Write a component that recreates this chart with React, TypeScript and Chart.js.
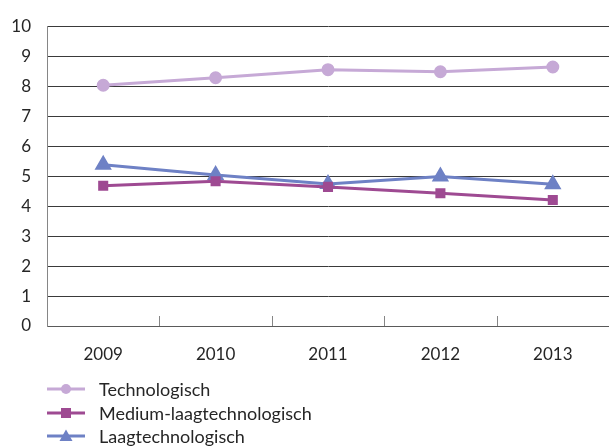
import React, { useEffect, useRef } from "react";
import { Chart, registerables } from "chart.js";

Chart.register(...registerables);

const years = ["2009", "2010", "2011", "2012", "2013"];
const technologisch = [8.03, 8.28, 8.55, 8.48, 8.64];
const mediumLaag = [4.68, 4.83, 4.64, 4.43, 4.2];
const laag = [5.38, 5.04, 4.74, 4.99, 4.73];
const yTicks = [0, 1, 2, 3, 4, 5, 6, 7, 8, 9, 10];

const seriesNames = ["Technologisch", "Medium-laagtechnologisch", "Laagtechnologisch"];
const colors = ["#C6A9D6", "#9E4A92", "#6E81C5"];
const pointStyles = ["circle", "rect", "triangle"];

const FONT = "Lato, 'Open Sans', sans-serif";

function LegendSymbol({ color, style }: { color: string; style: string }) {
  let marker: React.ReactNode = null;
  if (style === "circle") marker = <circle cx={19} cy={7} r={5} fill={color} />;
  else if (style === "rect") marker = <rect x={14} y={2} width={10} height={10} fill={color} />;
  else marker = <polygon points="19,0.5 25.5,12 12.5,12" fill={color} />;
  return (
    <svg width={38} height={14} style={{ display: "block" }}>
      <line x1={0} y1={7} x2={38} y2={7} stroke={color} strokeWidth={3} />
      {marker}
    </svg>
  );
}

export default function App() {
  const ref = useRef<HTMLCanvasElement | null>(null);
  useEffect(() => {
    document.body.style.margin = "0";
    const canvas = ref.current;
    if (!canvas) return;
    const catTicks = {
      id: "catTicks",
      afterDraw(chart: any) {
        const x = chart.scales.x;
        const area = chart.chartArea;
        const ctx = chart.ctx;
        ctx.save();
        ctx.strokeStyle = "#868686";
        ctx.lineWidth = 1;
        for (let i = 1; i < years.length; i++) {
          const px = Math.round((x.getPixelForTick(i - 1) + x.getPixelForTick(i)) / 2) + 0.5;
          ctx.beginPath();
          ctx.moveTo(px, area.bottom);
          ctx.lineTo(px, area.bottom - 10);
          ctx.stroke();
        }
        ctx.restore();
      },
    };
    const chart = new Chart(canvas, {
      type: "line",
      data: {
        labels: years,
        datasets: [technologisch, mediumLaag, laag].map((d, i) => ({
          label: seriesNames[i],
          data: d,
          borderColor: colors[i],
          backgroundColor: colors[i],
          borderWidth: 3,
          pointStyle: pointStyles[i] as any,
          pointRadius: i === 2 ? 7 : 5,
          pointHoverRadius: i === 2 ? 7 : 5,
          tension: 0,
        })),
      },
      options: {
        animation: false,
        responsive: false,
        maintainAspectRatio: false,
        layout: { autoPadding: false, padding: { top: 24, right: 0, bottom: 70, left: 0 } },
        plugins: { legend: { display: false }, tooltip: { enabled: false } },
        scales: {
          x: {
            type: "category",
            offset: true,
            grid: { display: false, drawTicks: false },
            border: { display: true, color: "#5a5a5a", width: 1 },
            ticks: { padding: 18, color: "#262626", font: { family: FONT, size: 17 } },
            afterFit(scale: any) {
              scale.height = 50;
              scale.paddingLeft = 0;
              scale.paddingRight = 0;
            },
          },
          y: {
            min: 0,
            max: 10,
            afterBuildTicks(scale: any) {
              scale.ticks = yTicks.map((v) => ({ value: v }));
            },
            grid: { color: "#3a3a3a", lineWidth: 1, drawTicks: false },
            border: { display: true, color: "#868686", width: 1 },
            ticks: { padding: 16, color: "#262626", font: { family: FONT, size: 17 } },
            afterFit(scale: any) {
              scale.width = 47;
            },
          },
        },
      },
      plugins: [catTicks],
    });
    return () => chart.destroy();
  }, []);

  return (
    <div style={{ position: "relative", width: 609, height: 446, fontFamily: FONT }}>
      <canvas ref={ref} width={609} height={446} style={{ display: "block" }} />
      {seriesNames.map((name, i) => (
        <div
          key={name}
          style={{
            position: "absolute",
            left: 47,
            top: 379 + i * 23.5,
            height: 20,
            display: "flex",
            alignItems: "center",
            fontSize: 18,
            color: "#262626",
          }}
        >
          <LegendSymbol color={colors[i]} style={pointStyles[i]} />
          <span style={{ marginLeft: 14, whiteSpace: "nowrap" }}>{name}</span>
        </div>
      ))}
    </div>
  );
}
